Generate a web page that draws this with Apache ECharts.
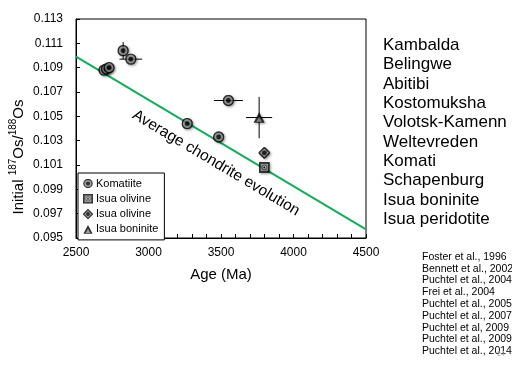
<!DOCTYPE html>
<html><head><meta charset="utf-8">
<script src="https://cdn.jsdelivr.net/npm/echarts@6/dist/echarts.min.js"></script>
<style>html,body{margin:0;padding:0;background:#fff}#c{width:512px;height:379px}</style>
</head><body><div id="c"></div>
<script>
// ---- axis ticks ----
const xTicks = [2500, 3000, 3500, 4000, 4500];
const yTicks = [0.095, 0.097, 0.099, 0.101, 0.103, 0.105, 0.107, 0.109, 0.111, 0.113];

// ---- series values (Age in Ma, initial 187Os/188Os) ----
const komatiiteAge    = [2693, 2710, 2728, 2825, 2878, 3267, 3484, 3551];
const komatiiteOs     = [0.1088, 0.1089, 0.1090, 0.1104, 0.1097, 0.1044, 0.1033, 0.1063];
const komatiiteAgeErr = [0, 0, 0, 0, 78, 0, 0, 100];
const komatiiteOsErr  = [0, 0, 0, 0.0007, 0, 0, 0, 0];

const olivineSqAge = [3799];
const olivineSqOs  = [0.1008];
const olivineDiAge = [3799];
const olivineDiOs  = [0.1020];

const boniniteAge    = [3763];
const boniniteOs     = [0.1049];
const boniniteAgeErr = [90];
const boniniteOsErr  = [0.0017];

const chondriteAge = [2500, 4500];
const chondriteOs  = [0.1099, 0.0957];

const legendNames = ['Komatiite', 'Isua olivine', 'Isua olivine ', 'Isua boninite'];
const localities = ['Kambalda', 'Belingwe', 'Abitibi', 'Kostomuksha', 'Volotsk-Kamenn',
  'Weltevreden', 'Komati', 'Schapenburg', 'Isua boninite', 'Isua peridotite'];
const references = ['Foster et al., 1996', 'Bennett et al., 2002', 'Puchtel et al., 2004',
  'Frei et al., 2004', 'Puchtel et al., 2005', 'Puchtel et al., 2007', 'Puchtel et al, 2009',
  'Puchtel et al., 2009', 'Puchtel et al., 2014'];

// ---- marker icons ----
function svgIcon(body) {
  return 'image://data:image/svg+xml;charset=utf-8,' + encodeURIComponent(
    '<svg xmlns="http://www.w3.org/2000/svg" width="24" height="24" viewBox="0 0 12 12">' + body + '</svg>');
}
const GRAY = '#858585';
const iconCircle = svgIcon('<circle cx="6" cy="6" r="5" fill="' + GRAY + '" stroke="#000" stroke-width="1.4"/><circle cx="6" cy="6" r="2.4" fill="#000"/>');
const iconSquare = svgIcon('<rect x="1" y="1" width="10" height="10" fill="' + GRAY + '" stroke="#000" stroke-width="1.9"/><circle cx="6" cy="6" r="2.6" fill="#ddd" stroke="#000" stroke-width="0.8"/><circle cx="6" cy="6" r="1.2" fill="#000"/>');
const iconDiamond = svgIcon('<polygon points="6,0.6 11.4,6 6,11.4 0.6,6" fill="' + GRAY + '" stroke="#000" stroke-width="1.5"/><circle cx="6" cy="6" r="2.4" fill="#000"/>');
const iconTriangle = svgIcon('<polygon points="6,0.8 11.6,11.2 0.4,11.2" fill="#000"/><polygon points="6,5.2 8.8,10.2 3.2,10.2" fill="' + GRAY + '"/>');

function zip(a, b) { return a.map((v, i) => [v, b[i]]); }
function zip4(a, b, c, d) { return a.map((v, i) => [v, b[i], c[i], d[i]]); }

const shadow = { shadowBlur: 2, shadowColor: 'rgba(0,0,0,0.45)', shadowOffsetX: 1.2, shadowOffsetY: 1.2 };
const FONT = 'Liberation Sans, Arial, sans-serif';

function errorBars(params, api) {
  const x = api.value(0), y = api.value(1), ex = api.value(2), ey = api.value(3);
  const kids = [];
  const st = { stroke: '#000', lineWidth: 1 };
  if (ex > 0) {
    const a = api.coord([x - ex, y]), b = api.coord([x + ex, y]);
    kids.push({ type: 'line', shape: { x1: a[0], y1: a[1], x2: b[0], y2: b[1] }, style: st });
  }
  if (ey > 0) {
    const a = api.coord([x, y - ey]), b = api.coord([x, y + ey]);
    kids.push({ type: 'line', shape: { x1: a[0], y1: a[1], x2: b[0], y2: b[1] }, style: st });
  }
  return { type: 'group', children: kids };
}

const chart = echarts.init(document.getElementById('c'), null, { renderer: 'canvas' });
const lineH = 19.3, refH = 11.8;
chart.setOption({
  animation: false,
  backgroundColor: '#fff',
  textStyle: { fontFamily: FONT },
  grid: { left: 76, right: 146, top: 19, bottom: 141, show: true, borderColor: '#000', borderWidth: 1, backgroundColor: 'transparent' },
  xAxis: {
    type: 'value', min: xTicks[0], max: xTicks[xTicks.length - 1], interval: xTicks[1] - xTicks[0],
    name: 'Age (Ma)', nameLocation: 'middle', nameGap: 29,
    nameTextStyle: { fontSize: 15, color: '#000', fontFamily: FONT },
    axisLine: { lineStyle: { color: '#000', width: 1 } },
    axisTick: { inside: true, length: 4, lineStyle: { color: '#000' } },
    minorTick: { show: true, splitNumber: 5, length: 4, lineStyle: { color: '#000' } },
    splitLine: { show: false },
    axisLabel: { fontSize: 12, color: '#000', margin: 9, fontFamily: FONT, formatter: v => String(v) }
  },
  yAxis: {
    type: 'value', min: yTicks[0], max: yTicks[yTicks.length - 1], interval: yTicks[1] - yTicks[0],
    axisLine: { show: true, lineStyle: { color: '#000', width: 1 } },
    axisTick: { show: true, inside: true, length: 4, lineStyle: { color: '#000' } },
    splitLine: { show: false },
    axisLabel: { fontSize: 12, color: '#000', margin: 13, fontFamily: FONT, formatter: v => v.toFixed(3) }
  },
  legend: {
    orient: 'vertical', left: 78, top: 173,
    padding: [5, 6, 5, 5], itemGap: 4.3, itemWidth: 10, itemHeight: 10,
    borderColor: '#000', borderWidth: 1, backgroundColor: '#fff',
    textStyle: { fontSize: 11, color: '#000', fontFamily: FONT, padding: [0, 0, 0, -2] },
    data: [
      { name: legendNames[0], icon: iconCircle },
      { name: legendNames[1], icon: iconSquare },
      { name: legendNames[2], icon: iconDiamond },
      { name: legendNames[3], icon: iconTriangle }
    ],
    formatter: n => n.trim()
  },
  series: [
    { type: 'line', data: zip(chondriteAge, chondriteOs), symbol: 'none', silent: true,
      lineStyle: { color: '#14ad5a', width: 2 }, z: 1 },
    { type: 'custom', renderItem: errorBars, data: zip4(komatiiteAge, komatiiteOs, komatiiteAgeErr, komatiiteOsErr), z: 2, silent: true },
    { type: 'custom', renderItem: errorBars, data: zip4(boniniteAge, boniniteOs, boniniteAgeErr, boniniteOsErr), z: 2, silent: true },
    { name: legendNames[0], type: 'scatter', data: zip(komatiiteAge, komatiiteOs), symbol: iconCircle, symbolSize: 12, itemStyle: shadow, z: 3 },
    { name: legendNames[1], type: 'scatter', data: zip(olivineSqAge, olivineSqOs), symbol: iconSquare, symbolSize: 11, itemStyle: shadow, z: 3 },
    { name: legendNames[2], type: 'scatter', data: zip(olivineDiAge, olivineDiOs), symbol: iconDiamond, symbolSize: 12, itemStyle: shadow, z: 3 },
    { name: legendNames[3], type: 'scatter', data: zip(boniniteAge, boniniteOs), symbol: iconTriangle, symbolSize: 12, itemStyle: shadow, z: 3 }
  ],
  graphic: [
    { type: 'text', x: 17, y: 157, rotation: Math.PI / 2,
      style: { text: '{n|Initial }{s|187}{n|Os/}{s|188}{n|Os}', align: 'center', verticalAlign: 'middle',
        rich: { n: { fontSize: 15, fontFamily: FONT, fill: '#000', lineHeight: 18, verticalAlign: 'bottom' },
                s: { fontSize: 10, fontFamily: FONT, fill: '#000', lineHeight: 11, verticalAlign: 'top' } } } },
    { type: 'text', x: 216, y: 163, rotation: -30.8 * Math.PI / 180,
      style: { text: 'Average chondrite evolution', font: '15.5px ' + FONT, fill: '#000', align: 'center', verticalAlign: 'middle' }, z: 10 },
    { type: 'text', x: 383, y: 45.5 - lineH / 2,
      style: { text: localities.join('\n'), font: '17px ' + FONT, fill: '#000', lineHeight: lineH, verticalAlign: 'top' } },
    { type: 'text', x: 422, y: 257 - refH / 2,
      style: { text: references.join('\n'), font: '10.5px ' + FONT, fill: '#000', lineHeight: refH, verticalAlign: 'top' } },
    { type: 'text', x: 501, y: 354,
      style: { text: '24', font: '7px ' + FONT, fill: '#aaa', align: 'center', verticalAlign: 'middle' }, z: 20 }
  ]
});
</script></body></html>
